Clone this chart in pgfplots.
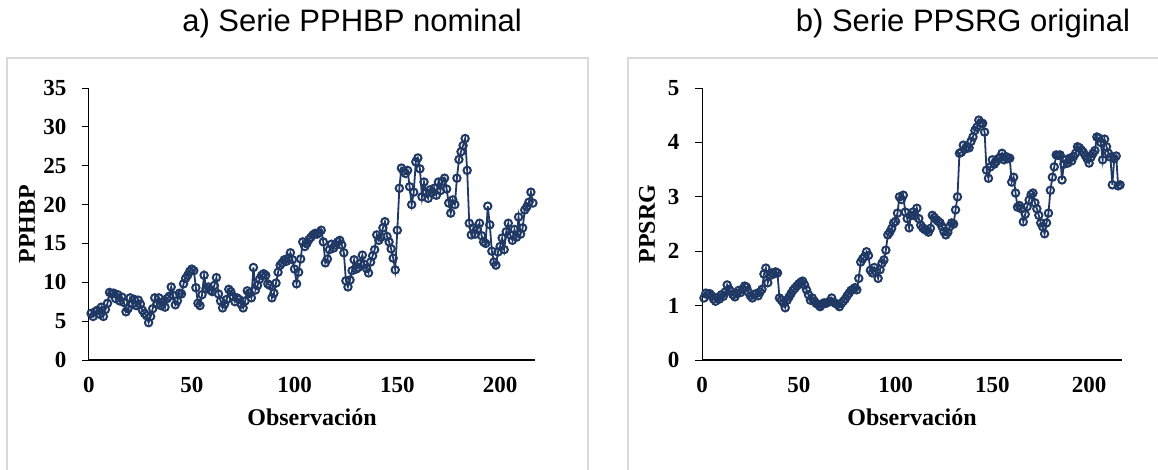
\documentclass[border=0pt]{standalone}
\usepackage{fontspec}
\setmainfont{Liberation Serif}
\newfontfamily\arial{Liberation Sans}
\usepackage{pgfplots}
\usepackage{pgfplotstable}
\pgfplotsset{compat=1.18}
\definecolor{serie}{HTML}{1F3864}
\definecolor{marco}{HTML}{D9D9D9}

% observacion, PPHBP nominal, PPSRG original
\pgfplotstableread{
obs pphbp ppsrg
1 6.0 1.14
2 5.6 1.23
3 6.2 1.20
4 6.4 1.22
5 5.9 1.18
6 6.8 1.12
7 5.6 1.08
8 6.5 1.15
9 7.3 1.12
10 8.7 1.20
11 8.5 1.17
12 8.6 1.25
13 7.9 1.38
14 8.4 1.30
15 7.6 1.26
16 8.1 1.20
17 7.4 1.16
18 6.2 1.22
19 6.6 1.28
20 8.0 1.24
21 7.2 1.30
22 7.8 1.36
23 7.0 1.34
24 7.7 1.25
25 7.2 1.18
26 6.4 1.14
27 6.0 1.20
28 5.7 1.22
29 4.8 1.18
30 5.6 1.25
31 6.6 1.30
32 8.0 1.58
33 7.2 1.69
34 8.0 1.42
35 7.0 1.55
36 7.5 1.60
37 6.8 1.58
38 7.9 1.62
39 8.2 1.60
40 9.4 1.14
41 8.3 1.10
42 7.1 1.05
43 7.6 0.96
44 8.6 1.10
45 8.5 1.16
46 9.8 1.22
47 10.5 1.28
48 10.9 1.32
49 11.4 1.36
50 11.7 1.40
51 11.5 1.43
52 9.3 1.45
53 7.3 1.38
54 7.0 1.29
55 8.4 1.20
56 10.9 1.10
57 9.2 1.14
58 9.4 1.08
59 9.0 1.04
60 8.8 1.02
61 9.6 0.98
62 10.6 1.02
63 8.5 1.05
64 7.6 1.04
65 6.7 1.06
66 7.2 1.08
67 7.8 1.14
68 9.1 1.06
69 8.8 1.04
70 8.2 1.02
71 7.5 0.98
72 8.0 1.04
73 7.8 1.08
74 7.2 1.12
75 6.7 1.18
76 7.6 1.23
77 8.9 1.28
78 8.6 1.30
79 8.0 1.33
80 11.9 1.29
81 9.0 1.50
82 9.6 1.80
83 10.4 1.86
84 10.9 1.90
85 11.1 1.99
86 10.9 1.92
87 9.8 1.65
88 9.6 1.60
89 8.0 1.70
90 8.6 1.62
91 9.9 1.50
92 11.3 1.66
93 12.2 1.78
94 12.5 1.84
95 12.9 2.02
96 12.7 2.30
97 13.1 2.35
98 13.8 2.42
99 12.9 2.52
100 11.7 2.55
101 9.8 2.70
102 11.3 3.00
103 13.0 2.95
104 15.2 3.03
105 14.6 2.72
106 15.0 2.60
107 15.5 2.43
108 15.8 2.66
109 16.1 2.72
110 16.3 2.65
111 16.2 2.79
112 16.4 2.60
113 16.7 2.48
114 15.2 2.43
115 12.5 2.40
116 13.0 2.38
117 14.2 2.35
118 14.9 2.42
119 14.4 2.66
120 14.8 2.62
121 15.2 2.58
122 15.4 2.55
123 14.8 2.52
124 13.8 2.45
125 10.2 2.36
126 9.4 2.30
127 10.3 2.35
128 11.5 2.45
129 12.9 2.52
130 11.7 2.50
131 11.9 2.76
132 12.4 3.00
133 13.5 3.80
134 12.3 3.82
135 11.8 3.95
136 11.2 3.88
137 12.6 3.92
138 13.4 3.90
139 14.2 4.02
140 16.1 4.10
141 15.4 4.22
142 15.8 4.28
143 17.0 4.41
144 17.8 4.36
145 15.9 4.35
146 15.2 4.19
147 14.3 3.49
148 13.1 3.34
149 11.6 3.55
150 16.7 3.68
151 22.1 3.60
152 24.7 3.65
153 24.3 3.70
154 24.0 3.72
155 24.4 3.80
156 22.3 3.68
157 20.0 3.74
158 21.6 3.70
159 25.5 3.71
160 26.0 3.27
161 24.6 3.36
162 21.0 3.07
163 22.9 2.81
164 21.5 2.84
165 20.8 2.78
166 21.9 2.54
167 21.6 2.68
168 22.1 2.82
169 21.2 2.94
170 22.9 3.04
171 21.8 3.07
172 23.0 2.89
173 23.4 2.78
174 22.0 2.66
175 20.2 2.52
176 18.9 2.45
177 20.6 2.32
178 20.0 2.52
179 23.4 2.70
180 25.8 3.12
181 26.8 3.36
182 27.6 3.55
183 28.5 3.77
184 24.4 3.76
185 17.6 3.77
186 16.1 3.31
187 17.0 3.60
188 16.2 3.68
189 16.8 3.62
190 17.6 3.71
191 16.0 3.66
192 15.2 3.74
193 15.0 3.80
194 19.8 3.92
195 17.4 3.90
196 14.0 3.86
197 12.6 3.82
198 12.2 3.76
199 13.9 3.70
200 14.6 3.62
201 15.7 3.73
202 14.2 3.80
203 16.5 3.85
204 17.6 4.10
205 16.1 4.08
206 15.4 4.00
207 16.8 3.68
208 15.8 4.06
209 18.4 3.92
210 16.2 3.80
211 17.0 3.73
212 19.3 3.22
213 19.7 3.70
214 20.3 3.75
215 21.6 3.20
216 20.2 3.22
}\datos

\pgfplotsset{
  panel/.style={
    scale only axis,
    anchor=south west,
    height=272pt,
    xmin=0, xmax=217,
    ymin=0,
    axis x line=bottom,
    axis y line=left,
    x axis line style={line width=1.6pt,-},
    y axis line style={line width=1pt,-},
    xtick={0,50,...,200},
    xtick style={draw=none},
    ytick style={line width=1pt,black},
    tick align=outside,
    major tick length=7pt,
    ticklabel style={font=\fontsize{23}{26}\selectfont\bfseries},
    /pgf/number format/assume math mode=true,
    xticklabel style={yshift=-7pt},
    yticklabel style={xshift=-12pt},
    label style={font=\fontsize{24}{28}\selectfont\bfseries},
    xlabel={Observación},
    xlabel style={at={(axis description cs:0.5,-0.21)},anchor=center},
    ylabel style={anchor=center,rotate=0},
  },
  serie/.style={
    color=serie, line width=1.8pt,
    mark=o, mark size=3.7pt,
    mark options={fill=white,line width=2pt},
  },
}

\begin{document}
\begin{tikzpicture}[x=1pt,y=1pt]
\useasboundingbox (0,0) rectangle (1158,469);
\draw[marco,line width=1.5pt] (7,-5) rectangle (588,411);
\draw[marco,line width=1.5pt] (628,-5) rectangle (1165,411);
\node[font=\arial\fontsize{31}{34}\selectfont] at (352,446) {a) Serie PPHBP nominal};
\node[font=\arial\fontsize{31}{34}\selectfont] at (963,446) {b) Serie PPSRG original};

\begin{axis}[panel, at={(89pt,109pt)}, width=446pt,
    ymax=35, ytick distance=5,
    ylabel={PPHBP},
    ylabel style={at={(axis description cs:-0.139,0.5)}}]
\addplot[serie] table[x=obs,y=pphbp]{\datos};
\end{axis}

\begin{axis}[panel, at={(702pt,109pt)}, width=420pt,
    ymax=5, ytick distance=1,
    ylabel={PPSRG},
    ylabel style={at={(axis description cs:-0.131,0.5)}}]
\addplot[serie] table[x=obs,y=ppsrg]{\datos};
\end{axis}
\end{tikzpicture}
\end{document}
